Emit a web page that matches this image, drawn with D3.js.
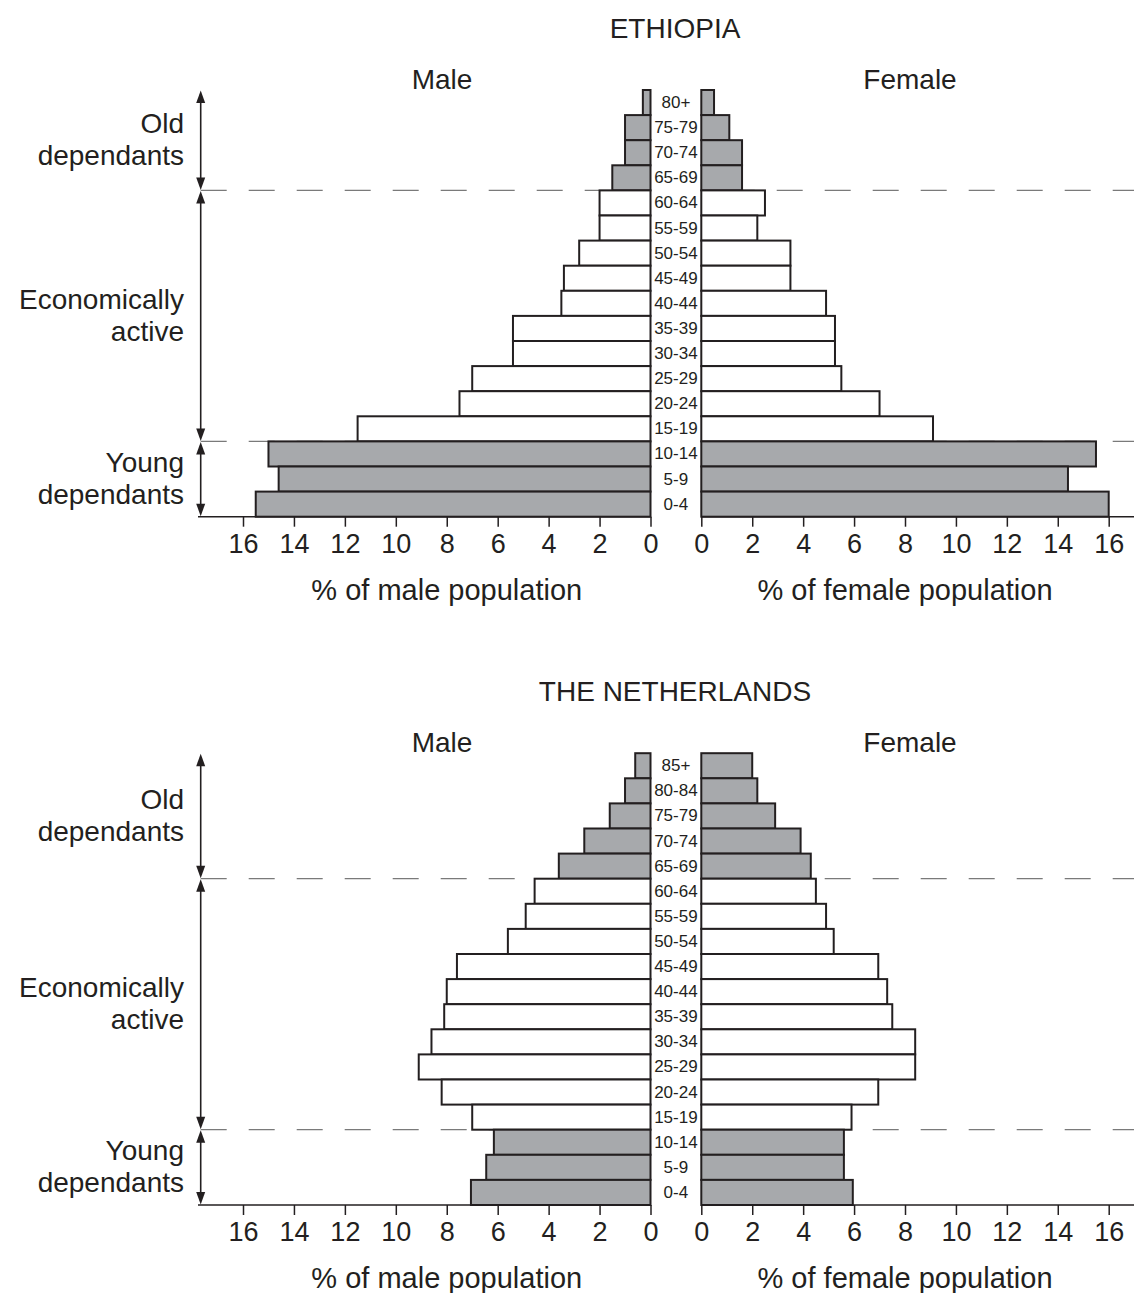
<!DOCTYPE html>
<html>
<head>
<meta charset="utf-8">
<script src="https://cdn.jsdelivr.net/npm/d3@7"></script>
<style>
  html, body { margin: 0; padding: 0; background: #fff; }
  svg { display: block; }
  text { font-family: "Liberation Sans", Arial, Helvetica, sans-serif; fill: #231f20; }
</style>
</head>
<body>
<svg id="chart" width="1134" height="1293"></svg>
<script>
// ---------- DATA ----------
const ethTitle = "ETHIOPIA";
const ethAges = ["80+","75-79","70-74","65-69","60-64","55-59","50-54","45-49","40-44","35-39","30-34","25-29","20-24","15-19","10-14","5-9","0-4"];
const ethMale   = [0.3,1.0,1.0,1.5,2.0,2.0,2.8,3.4,3.5,5.4,5.4,7.0,7.5,11.5,15.0,14.6,15.5];
const ethFemale = [0.5,1.1,1.6,1.6,2.5,2.2,3.5,3.5,4.9,5.25,5.25,5.5,7.0,9.1,15.5,14.4,16.0];
const ethOldCount = 4;   // number of old-dependant age groups (65+)

const nlTitle = "THE NETHERLANDS";
const nlAges = ["85+","80-84","75-79","70-74","65-69","60-64","55-59","50-54","45-49","40-44","35-39","30-34","25-29","20-24","15-19","10-14","5-9","0-4"];
const nlMale   = [0.6,1.0,1.6,2.6,3.6,4.55,4.9,5.6,7.6,8.0,8.1,8.6,9.1,8.2,7.0,6.15,6.45,7.05];
const nlFemale = [2.0,2.2,2.9,3.9,4.3,4.5,4.9,5.2,6.95,7.3,7.5,8.4,8.4,6.95,5.9,5.6,5.6,5.95];
const nlOldCount = 5;

const youngCount = 3;    // 0-4, 5-9, 10-14
const tickValues = [0,2,4,6,8,10,12,14,16];
const groupLabels = [["Old","dependants"],["Economically","active"],["Young","dependants"]];
const sexLabels = ["Male","Female"];
const axisTitles = ["% of male population","% of female population"];

// ---------- LAYOUT ----------
const INK = "#231f20";
const GREY = "#a7a9ac";
const svg = d3.select("#chart");

const maleZero = 650.5, maleEnd = 243;
const femZero = 701.3, femEnd = 1108.7;
const arrowX = 200.7;
const rowH = 25.1;

function pyramid(cfg) {
  const g = svg.append("g");
  const top = cfg.bottom - cfg.ages.length * rowH;
  const y = d3.scaleBand().domain(cfg.ages).range([top, cfg.bottom]).padding(0);
  const xM = d3.scaleLinear().domain([0,16]).range([maleZero, maleEnd]);
  const xF = d3.scaleLinear().domain([0,16]).range([femZero, femEnd]);
  const n = cfg.ages.length;
  const oldBottom = y(cfg.ages[cfg.oldCount-1]) + y.bandwidth();
  const youngTop = y(cfg.ages[n - youngCount]);
  const isGrey = i => i < cfg.oldCount || i >= n - youngCount;

  // dashed boundaries
  [oldBottom, youngTop].forEach(yy => {
    g.append("line").attr("x1", arrowX).attr("x2", 1134).attr("y1", yy).attr("y2", yy)
      .attr("stroke", "#7a7a7a").attr("stroke-width", 1.3).attr("stroke-dasharray", "26,22");
  });
  // label column background
  g.append("rect").attr("x", xM(0)).attr("y", top - 2).attr("width", xF(0) - xM(0))
    .attr("height", cfg.bottom - top + 2).attr("fill", "#fff");

  // bars
  g.selectAll(".m").data(cfg.male).join("rect")
    .attr("x", d => xM(d)).attr("y", (d,i) => y(cfg.ages[i]))
    .attr("width", d => xM(0) - xM(d)).attr("height", y.bandwidth())
    .attr("fill", (d,i) => isGrey(i) ? GREY : "#fff")
    .attr("stroke", INK).attr("stroke-width", 2);
  g.selectAll(".f").data(cfg.female).join("rect")
    .attr("x", xF(0)).attr("y", (d,i) => y(cfg.ages[i]))
    .attr("width", d => xF(d) - xF(0)).attr("height", y.bandwidth())
    .attr("fill", (d,i) => isGrey(i) ? GREY : "#fff")
    .attr("stroke", INK).attr("stroke-width", 2);

  // age labels
  g.selectAll(".age").data(cfg.ages).join("text")
    .attr("x", (xM(0) + xF(0)) / 2).attr("y", d => y(d) + y.bandwidth()/2)
    .attr("text-anchor", "middle").attr("dominant-baseline", "central")
    .attr("font-size", 17).text(d => d);

  // axes
  const mAxis = d3.axisBottom(xM).tickValues(tickValues).tickSize(10).tickPadding(7);
  const fAxis = d3.axisBottom(xF).tickValues(tickValues).tickSize(10).tickPadding(7);
  [ [mAxis, 198, xM(0)], [fAxis, xF(0), 1134] ].forEach(([ax, a, b]) => {
    const ag = g.append("g").attr("transform", `translate(0,${cfg.bottom})`).call(ax);
    ag.select(".domain").remove();
    ag.selectAll(".tick line").attr("stroke", INK).attr("stroke-width", 1.5);
    ag.selectAll(".tick text").attr("font-size", 27).attr("fill", INK)
      .style("font-family", '"Liberation Sans", Arial, sans-serif');
    g.append("line").attr("x1", a).attr("x2", b).attr("y1", cfg.bottom).attr("y2", cfg.bottom)
      .attr("stroke", INK).attr("stroke-width", 1.5);
  });

  // axis titles
  g.append("text").attr("x", (xM(0)+xM(16))/2).attr("y", cfg.bottom + 83)
    .attr("text-anchor", "middle").attr("font-size", 29).text(axisTitles[0]);
  g.append("text").attr("x", (xF(0)+xF(16))/2).attr("y", cfg.bottom + 83)
    .attr("text-anchor", "middle").attr("font-size", 29).text(axisTitles[1]);

  // title & sex labels
  g.append("text").attr("x", 675).attr("y", top - 52).attr("text-anchor", "middle")
    .attr("font-size", 28).text(cfg.title);
  g.append("text").attr("x", 442).attr("y", top - 1).attr("text-anchor", "middle")
    .attr("font-size", 28).text(sexLabels[0]);
  g.append("text").attr("x", 910).attr("y", top - 1).attr("text-anchor", "middle")
    .attr("font-size", 28).text(sexLabels[1]);

  // group arrows and labels
  const regions = [[top, oldBottom],[oldBottom, youngTop],[youngTop, cfg.bottom]];
  regions.forEach(([y0, y1], k) => {
    g.append("line").attr("x1", arrowX).attr("x2", arrowX).attr("y1", y0 + 4).attr("y2", y1 - 4)
      .attr("stroke", INK).attr("stroke-width", 1.6);
    g.append("path").attr("d", `M${arrowX},${y0+0.5} L${arrowX-4.5},${y0+13} L${arrowX+4.5},${y0+13} Z`).attr("fill", INK);
    g.append("path").attr("d", `M${arrowX},${y1-0.5} L${arrowX-4.5},${y1-13} L${arrowX+4.5},${y1-13} Z`).attr("fill", INK);
    const mid = (y0 + y1) / 2;
    const t = g.append("text").attr("text-anchor", "end").attr("font-size", 28);
    t.append("tspan").attr("x", 184).attr("y", mid - 7).text(groupLabels[k][0]);
    t.append("tspan").attr("x", 184).attr("y", mid + 25).text(groupLabels[k][1]);
  });
}

pyramid({ title: ethTitle, ages: ethAges, male: ethMale, female: ethFemale, oldCount: ethOldCount, bottom: 516.7 });
pyramid({ title: nlTitle, ages: nlAges, male: nlMale, female: nlFemale, oldCount: nlOldCount, bottom: 1205 });
</script>
</body>
</html>
